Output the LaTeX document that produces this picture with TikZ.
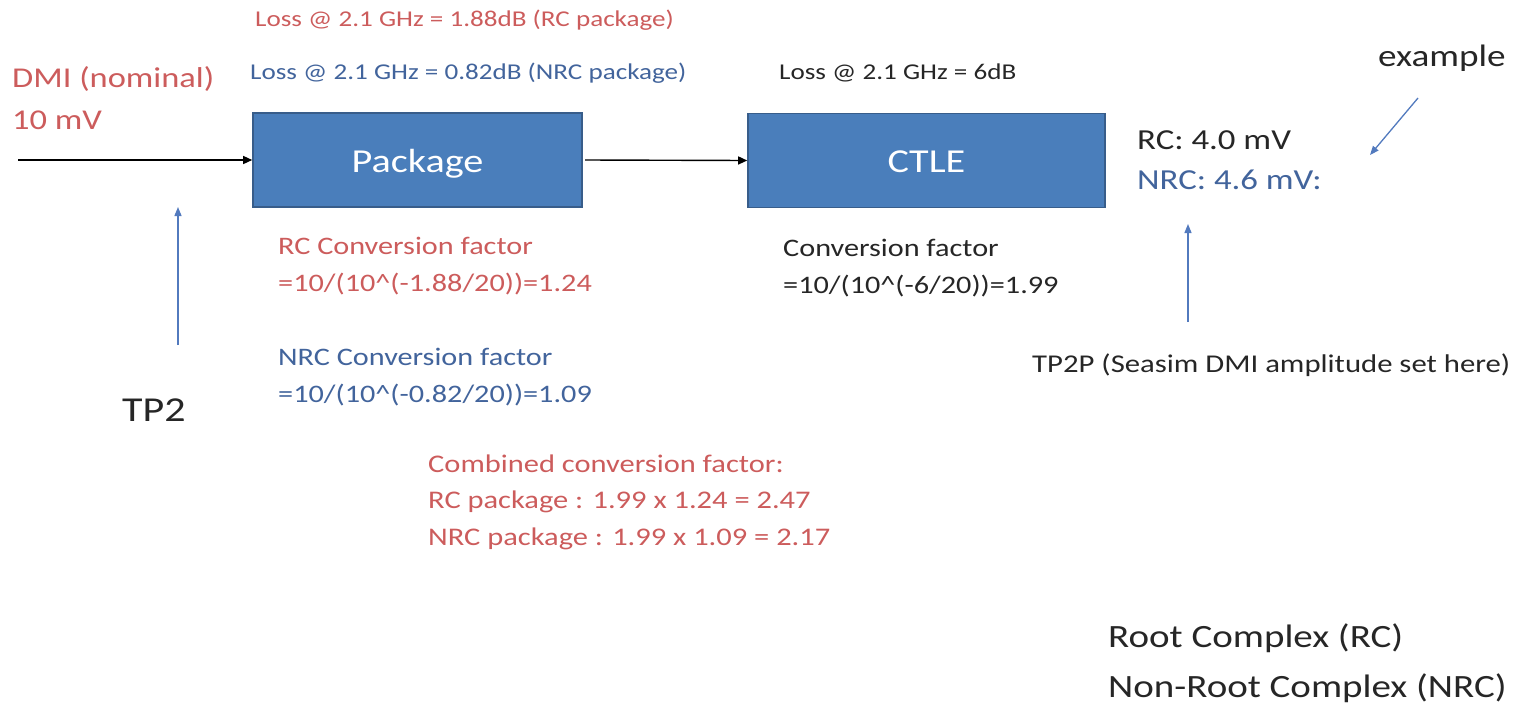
\documentclass[tikz,border=0pt]{standalone}
\usepackage{fontspec}
\setmainfont{Carlito}[FakeStretch=1.2]
\usetikzlibrary{arrows.meta}
\definecolor{txtred}{RGB}{204,92,92}
\definecolor{txtblue}{RGB}{66,100,156}
\definecolor{txtdark}{RGB}{38,38,38}
\definecolor{boxfill}{RGB}{74,126,187}
\definecolor{boxline}{RGB}{56,93,138}
\definecolor{ptrblue}{RGB}{82,122,190}
\tikzset{
  blockbox/.style={draw=boxline, line width=1.6pt, fill=boxfill, text=white,
    minimum width=#1, minimum height=94pt, inner sep=0pt,
    text height=28pt, text depth=3.5pt,
    font=\fontsize{33.5}{40}\selectfont},
  lbl/.style={anchor=west, inner sep=0pt, align=left},
  small/.style={font=\fontsize{22.6}{27}\selectfont},
  mid/.style={font=\fontsize{25.2}{37}\selectfont},
  big/.style={font=\fontsize{29}{42}\selectfont},
  sig/.style={draw=black, line width=1.4pt, -{Triangle[length=9pt,width=8pt]}},
  ptr/.style={draw=ptrblue, line width=1.3pt, -{Triangle[length=9pt,width=7pt]}},
}
\begin{document}
\begin{tikzpicture}[x=1pt,y=-1pt]
\useasboundingbox (0,0) rectangle (1516,707);

% blocks
\node[blockbox=329pt] (pkg) at (417.5,160) {Package};
\node[blockbox=357pt] (ctle) at (926.5,160.5) {CTLE};

% signal path
\coordinate (in) at (18,160);
\draw[sig] (in) -- (pkg.west);
\coordinate (pkgout) at (585,160);
\draw[sig] (pkgout) -- (ctle.west);

% loss annotations
\node[lbl, small, text=txtred] (lossrc) at (255,20) {Loss @ 2.1 GHz = 1.88dB (RC package)};
\node[lbl, small, text=txtblue] (lossnrc) at (250,73) {Loss @ 2.1 GHz = 0.82dB (NRC package)};
\node[lbl, small, text=txtdark] (lossctle) at (779,73) {Loss @ 2.1 GHz = 6dB};

% input amplitude
\node[lbl, text=txtred, font=\fontsize{28.7}{42}\selectfont] (dmi) at (12,98) {DMI (nominal)\\10 mV};

% output amplitudes
\node[lbl, big, text=txtdark] (rcout) at (1137,140) {RC: 4.0 mV};
\node[lbl, big, text=txtblue] (nrcout) at (1137,180) {NRC: 4.6 mV:};
\node[lbl, text=txtdark, font=\fontsize{31}{40}\selectfont] (ex) at (1378,58) {example};
\coordinate (exfrom) at (1418,98);
\coordinate (exto) at (1370,155);
\draw[ptr] (exfrom) -- (exto);

% test points
\node[lbl, text=txtdark, font=\fontsize{35}{42}\selectfont] (tp2) at (122,410) {TP2};
\coordinate (tp2foot) at (178,345);
\coordinate (tp2head) at (178,207);
\draw[ptr] (tp2foot) -- (tp2head);

\node[lbl, text=txtdark, font=\fontsize{25.6}{37}\selectfont] (tp2p) at (1032,365) {TP2P (Seasim DMI amplitude set here)};
\coordinate (tp2pfoot) at (1188,322);
\coordinate (tp2phead) at (1188,224);
\draw[ptr] (tp2pfoot) -- (tp2phead);

% conversion factors
\node[lbl, mid, text=txtred] (rcconv) at (278,266) {RC Conversion factor\\=10/(10\^{}(-1.88/20))=1.24};
\node[lbl, mid, text=txtblue] (nrcconv) at (278,377) {NRC Conversion factor\\=10/(10\^{}(-0.82/20))=1.09};
\node[lbl, mid, text=txtdark] (ctleconv) at (783,268) {Conversion factor\\=10/(10\^{}(-6/20))=1.99};

\node[lbl, text=txtred, font=\fontsize{25.4}{36.5}\selectfont] (comb) at (428,502)
  {Combined conversion factor:\\RC package : 1.99 x 1.24 = 2.47\\NRC package : 1.99 x 1.09 = 2.17};

% legend
\node[lbl, text=txtdark, font=\fontsize{32.5}{50}\selectfont] (legend) at (1108,663)
  {Root Complex (RC)\\Non-Root Complex (NRC)};
\end{tikzpicture}
\end{document}
